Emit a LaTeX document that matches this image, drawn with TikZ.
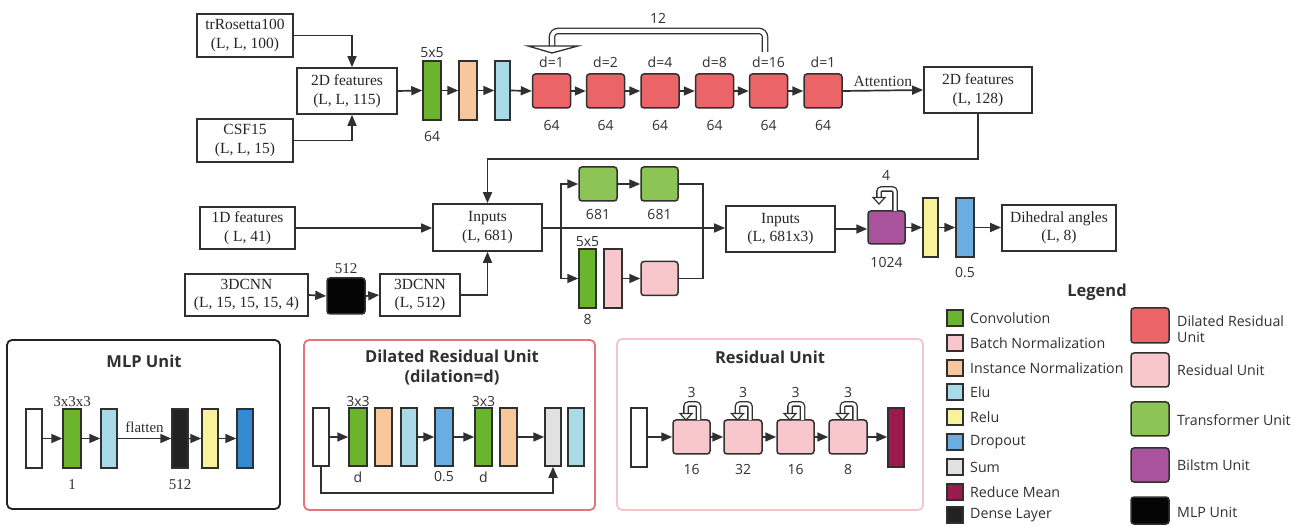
\documentclass[tikz,border=0pt]{standalone}
\usepackage{fontspec}
\setmainfont{Liberation Serif}
\newfontfamily\sfa{Open Sans}
\usetikzlibrary{arrows.meta}
\definecolor{ln}{HTML}{303030}
\definecolor{conv}{HTML}{6BB42E}
\definecolor{inorm}{HTML}{F8C89C}
\definecolor{elu}{HTML}{A9DAE7}
\definecolor{dru}{HTML}{EB6468}
\definecolor{trf}{HTML}{8CC456}
\definecolor{bnorm}{HTML}{F7C7CC}
\definecolor{bil}{HTML}{A8539B}
\definecolor{relu}{HTML}{F8F29C}
\definecolor{drop}{HTML}{6AADE3}
\definecolor{dropd}{HTML}{3589CE}
\definecolor{sumc}{HTML}{E1E1E1}
\definecolor{rmean}{HTML}{9B1B4E}
\definecolor{dense}{HTML}{222222}
\definecolor{mlpc}{HTML}{050505}
\definecolor{redpan}{HTML}{E8727A}
\definecolor{pinkpan}{HTML}{F4C4C8}
\newcommand{\bx}[7]{\node[#1, minimum width={(#5)-(#3)}, minimum height={(#6)-(#4)}] (#2) at ({((#3)+(#5))/2},{((#4)+(#6))/2}) {#7};}
\newcommand{\rloop}[5]{%
  \draw[dbl] (#2,#4) -- (#2,#3) -- (#1,#3) -- ({#1},{#5-4});
  \draw[draw=ln, line width=1.2pt, fill=white, line join=miter] ({#1-6},{#5-6.5}) -- ({#1+6},{#5-6.5}) -- (#1,#5) -- cycle;}
\begin{document}
\begin{tikzpicture}[x=1pt,y=-1pt,
  tbox/.style={draw=ln, line width=1.7pt, fill=white, align=center, inner sep=0pt, text=black!85, font=\fontsize{15.5}{18.5}\selectfont},
  lay/.style={draw=ln, line width=1.5pt, inner sep=0pt},
  unit/.style={lay, rounded corners=3pt},
  arr/.style={draw=ln, line width=1.7pt, -{Triangle[length=11pt,width=9pt]}},
  wire/.style={draw=ln, line width=1.7pt},
  dbl/.style={draw=ln, line width=1.3pt, double=white, double distance=3pt, rounded corners=2.5pt},
  lab/.style={font=\sfa\fontsize{14}{16}\selectfont, text=ln, inner sep=0pt},
  slab/.style={font=\fontsize{15}{17}\selectfont, text=ln, inner sep=0pt},
  title/.style={font=\sfa\bfseries\fontsize{16.5}{20}\selectfont, text=ln, inner sep=0pt, align=center},
  panel/.style={line width=1.8pt, rounded corners=5pt, inner sep=0pt},
  leg/.style={font=\sfa\fontsize{14.2}{16.5}\selectfont, text=ln, inner sep=0pt, anchor=west, align=left}]
\useasboundingbox (0,0) rectangle (1299,526);

% ---------- top row ----------
\bx{tbox}{tr}{197}{14}{293}{57}{trRosetta100\\(L, L, 100)}
\bx{tbox}{csf}{197}{119}{293}{162}{CSF15\\(L, L, 15)}
\bx{tbox}{fa}{297}{68}{397}{114}{2D features\\(L, L, 115)}
\draw[arr] (tr.east) -| ([xshift=5pt]fa.north);
\draw[arr] (csf.east) -| ([xshift=5pt]fa.south);

\bx{lay,fill=conv}{c1}{423}{61}{441}{120}{}
\bx{lay,fill=inorm}{in1}{459}{61}{477}{120}{}
\bx{lay,fill=elu}{el1}{495}{61}{510}{120}{}
\node[lab] (c1t) at (432,53) {5x5};
\node[lab] (c1b) at (432,137) {64};
\draw[arr] (fa.east) -- (c1.west);
\draw[arr] (c1.east) -- (in1.west);
\draw[arr] (in1.east) -- (el1.west);

\bx{unit,fill=dru}{d1}{532.5}{74}{570.5}{108}{}
\bx{unit,fill=dru}{d2}{586.5}{74}{624.5}{108}{}
\bx{unit,fill=dru}{d3}{641}{74}{679}{108}{}
\bx{unit,fill=dru}{d4}{695.5}{74}{733.5}{108}{}
\bx{unit,fill=dru}{d5}{749.5}{74}{787.5}{108}{}
\bx{unit,fill=dru}{d6}{804}{74}{842}{108}{}
\foreach \n/\d in {d1/1,d2/2,d3/4,d4/8,d5/16,d6/1}{
  \node[lab] (\n t) at ([yshift=11pt]\n.north) {d=\d};
  \node[lab] (\n b) at ([yshift=-17pt]\n.south) {64};
}
\draw[arr] (el1.east) -- (d1.west);
\draw[arr] (d1.east) -- (d2.west);
\draw[arr] (d2.east) -- (d3.west);
\draw[arr] (d3.east) -- (d4.west);
\draw[arr] (d4.east) -- (d5.west);
\draw[arr] (d5.east) -- (d6.west);
% repeat loop 12
\coordinate (la) at (765,52);
\coordinate (lb) at (552,48);
\draw[draw=ln, line width=1.3pt, double=white, double distance=4pt, rounded corners=6pt] (la) -- (765,31) -- (552,31) -- (lb);
\draw[draw=ln, line width=1.3pt, fill=white, line join=miter] (528,46) -- (578,46) -- (552,53) -- cycle;
\node[lab] (n12) at (658,18) {12};

\bx{tbox}{fb}{924}{67}{1032}{113}{2D features\\(L, 128)}
\draw[arr] (d6.east) -- (fb.west) node[midway, above=3pt, slab, font=\fontsize{15.5}{18}\selectfont] (att) {Attention};

% ---------- middle row ----------
\bx{tbox}{inp}{433}{204}{542}{251}{Inputs\\(L, 681)}
\draw[arr] (fb.south) -- ++(0,45) -| (inp.north);
\bx{tbox}{f1}{200}{207}{295}{249}{1D features\\( L, 41)}
\draw[arr] (f1.east) -- (f1.east -| inp.west);
\bx{tbox}{cn1}{185}{274}{308}{316}{3DCNN\\(L, 15, 15, 15, 4)}
\bx{unit,fill=mlpc}{mb}{327}{278}{365}{314}{}
\node[slab] (mbt) at (346,269) {512};
\bx{tbox}{cn2}{380}{274}{460}{316}{3DCNN\\(L, 512)}
\draw[arr] (cn1.east) -- (mb.west);
\draw[arr] (mb.east) -- (cn2.west);
\draw[arr] (cn2.east) -| (inp.south);

\bx{tbox}{inp2}{726}{206}{835}{252}{Inputs\\(L, 681x3)}
\coordinate (bs) at (561,228);
\coordinate (bj) at (703,228);
\draw[arr] (inp.east |- bs) -- (inp2.west |- bs);
\bx{unit,fill=trf}{t1}{579}{167}{617}{201}{}
\bx{unit,fill=trf}{t2}{641}{167}{678}{201}{}
\node[lab] (t1b) at (598,215) {681};
\node[lab] (t2b) at (659.5,215) {681};
\bx{lay,fill=conv}{c2}{579}{249}{596}{308}{}
\bx{lay,fill=bnorm}{bn2}{604}{249}{622}{308}{}
\bx{unit,fill=bnorm}{p2}{641}{261.5}{678}{295.5}{}
\node[lab] (c2t) at (587.5,242) {5x5};
\node[lab] (c2b) at (587.5,320) {8};
\draw[arr] (bs) |- (t1.west);
\draw[arr] (bs) |- (c2.west |- p2.west);
\draw[arr] (t1.east) -- (t2.west);
\draw[arr] (bn2.east |- p2.west) -- (p2.west);
\draw[wire] (t2.east) -| (bj);
\draw[wire] (p2.east) -| (bj);

\bx{unit,fill=bil}{bl}{868}{211}{905}{244}{}
\rloop{879}{895}{189}{211}{204}
\node[lab] (blt) at (886,175) {4};
\node[lab] (blb) at (886.5,262) {1024};
\bx{lay,fill=relu}{rl}{923}{198}{938}{257}{}
\bx{lay,fill=drop}{dp}{956}{198}{974}{257}{}
\node[lab] (dpb) at (965,273) {0.5};
\bx{tbox}{dih}{1002}{205}{1116}{251}{Dihedral angles\\(L, 8)}
\draw[arr] (inp2.east) -- (bl.west |- inp2.east);
\draw[arr] (bl.east |- rl.west) -- (rl.west);
\draw[arr] (rl.east) -- (dp.west);
\draw[arr] (dp.east) -- (dih.west |- dp.east);

% ---------- MLP unit panel ----------
\bx{panel,draw=ln!70!black}{mlpp}{7}{340}{280}{509}{}
\node[title] (mlpt) at (144,361) {MLP Unit};
\bx{lay,fill=white}{m0}{26}{409}{42}{468}{}
\bx{lay,fill=conv}{m1}{63}{409}{81}{468}{}
\bx{lay,fill=elu}{m2}{101}{409}{117}{468}{}
\bx{lay,fill=dense}{m3}{172}{409}{188}{468}{}
\bx{lay,fill=relu}{m4}{202}{409}{218}{468}{}
\bx{lay,fill=dropd}{m5}{237}{409}{253}{468}{}
\node[slab] (m1t) at (72,402) {3x3x3};
\node[slab] (m1b) at (72,485) {1};
\node[slab] (m3b) at (180,485) {512};
\draw[arr] (m0.east) -- (m1.west);
\draw[arr] (m1.east) -- (m2.west);
\draw[arr] (m2.east) -- (m3.west) node[midway, above=5pt, slab] (flt) {flatten};
\draw[arr] (m3.east) -- (m4.west);
\draw[arr] (m4.east) -- (m5.west);

% ---------- Dilated residual unit panel ----------
\bx{panel,draw=redpan}{drp}{304}{340}{595}{510}{}
\node[title] (drt) at (452,367.5) {Dilated Residual Unit\\(dilation=d)};
\bx{lay,fill=white}{r0}{313}{408}{329}{466}{}
\bx{lay,fill=conv}{r1}{349}{408}{367}{466}{}
\bx{lay,fill=inorm}{r2}{375}{408}{392}{466}{}
\bx{lay,fill=elu}{r3}{401}{408}{417}{466}{}
\bx{lay,fill=drop}{r4}{435}{408}{453}{466}{}
\bx{lay,fill=conv}{r5}{475}{408}{492}{466}{}
\bx{lay,fill=inorm}{r6}{500}{408}{517}{466}{}
\bx{lay,fill=sumc}{r7}{545}{408}{561}{466}{}
\bx{lay,fill=elu}{r8}{568}{408}{584}{466}{}
\node[lab] (r1t) at (358,402) {3x3};
\node[lab] (r5t) at (483.5,402) {3x3};
\node[lab] (r1b) at (358,477) {d};
\node[lab] (r4b) at (444,477) {0.5};
\node[lab] (r5b) at (483.5,477) {d};
\draw[arr] (r0.east) -- (r1.west);
\draw[arr] (r3.east) -- (r4.west);
\draw[arr] (r4.east) -- (r5.west);
\draw[arr] (r6.east) -- (r7.west);
\draw[arr] (r0.south) -- ++(0,26) -| (r7.south);

% ---------- Residual unit panel ----------
\bx{panel,draw=pinkpan}{rsp}{617}{339}{923}{510}{}
\node[title] (rst) at (770,357) {Residual Unit};
\bx{lay,fill=white}{s0}{631}{408}{647}{467}{}
\bx{unit,fill=bnorm}{q1}{673}{420}{710}{454}{}
\bx{unit,fill=bnorm}{q2}{724}{420}{762}{454}{}
\bx{unit,fill=bnorm}{q3}{777}{420}{814}{454}{}
\bx{unit,fill=bnorm}{q4}{829}{420}{867}{454}{}
\bx{lay,fill=rmean}{s5}{888}{408}{904}{467}{}
\foreach \q/\v/\c in {q1/16/691.5,q2/32/743,q3/16/795.5,q4/8/848}{
  \node[lab] (\q b) at (\c,469) {\v};
  \node[lab] (\q t) at (\c,393) {3};
  \rloop{\c-5.5}{\c+7}{404}{420}{420}
}
\draw[arr] (s0.east |- q1.west) -- (q1.west);
\draw[arr] (q1.east) -- (q2.west);
\draw[arr] (q2.east) -- (q3.west);
\draw[arr] (q3.east) -- (q4.west);
\draw[arr] (q4.east) -- (s5.west |- q4.east);

% ---------- Legend ----------
\node[title] (lgt) at (1097,292) {Legend};
\foreach \i/\y/\c/\t in {1/318/conv/Convolution, 2/343/bnorm/Batch Normalization, 3/368/inorm/Instance Normalization, 4/392/elu/Elu, 5/417/relu/Relu, 6/442/drop/Dropout, 7/467/sumc/Sum, 8/492/rmean/Reduce Mean, 9/515/dense/Dense Layer}{
  \bx{lay,fill=\c}{ls\i}{947}{\y-8}{963}{\y+8}{}
  \node[leg] (lt\i) at (970,\y) {\t};
}
\bx{unit,fill=dru}{lr1}{1131}{308}{1169}{343}{}
\bx{unit,fill=bnorm}{lr2}{1131}{353}{1169}{387}{}
\bx{unit,fill=trf}{lr3}{1131}{402}{1169}{436}{}
\bx{unit,fill=bil}{lr4}{1131}{448}{1169}{482}{}
\bx{unit,fill=mlpc}{lr5}{1131}{497}{1169}{524}{}
\node[leg] (lq1) at (1177,329) {Dilated Residual\\Unit};
\node[leg] (lq2) at (1177,370) {Residual Unit};
\node[leg] (lq3) at (1177,420) {Transformer Unit};
\node[leg] (lq4) at (1177,465) {Bilstm Unit};
\node[leg] (lq5) at (1177,512) {MLP Unit};
\end{tikzpicture}
\end{document}
